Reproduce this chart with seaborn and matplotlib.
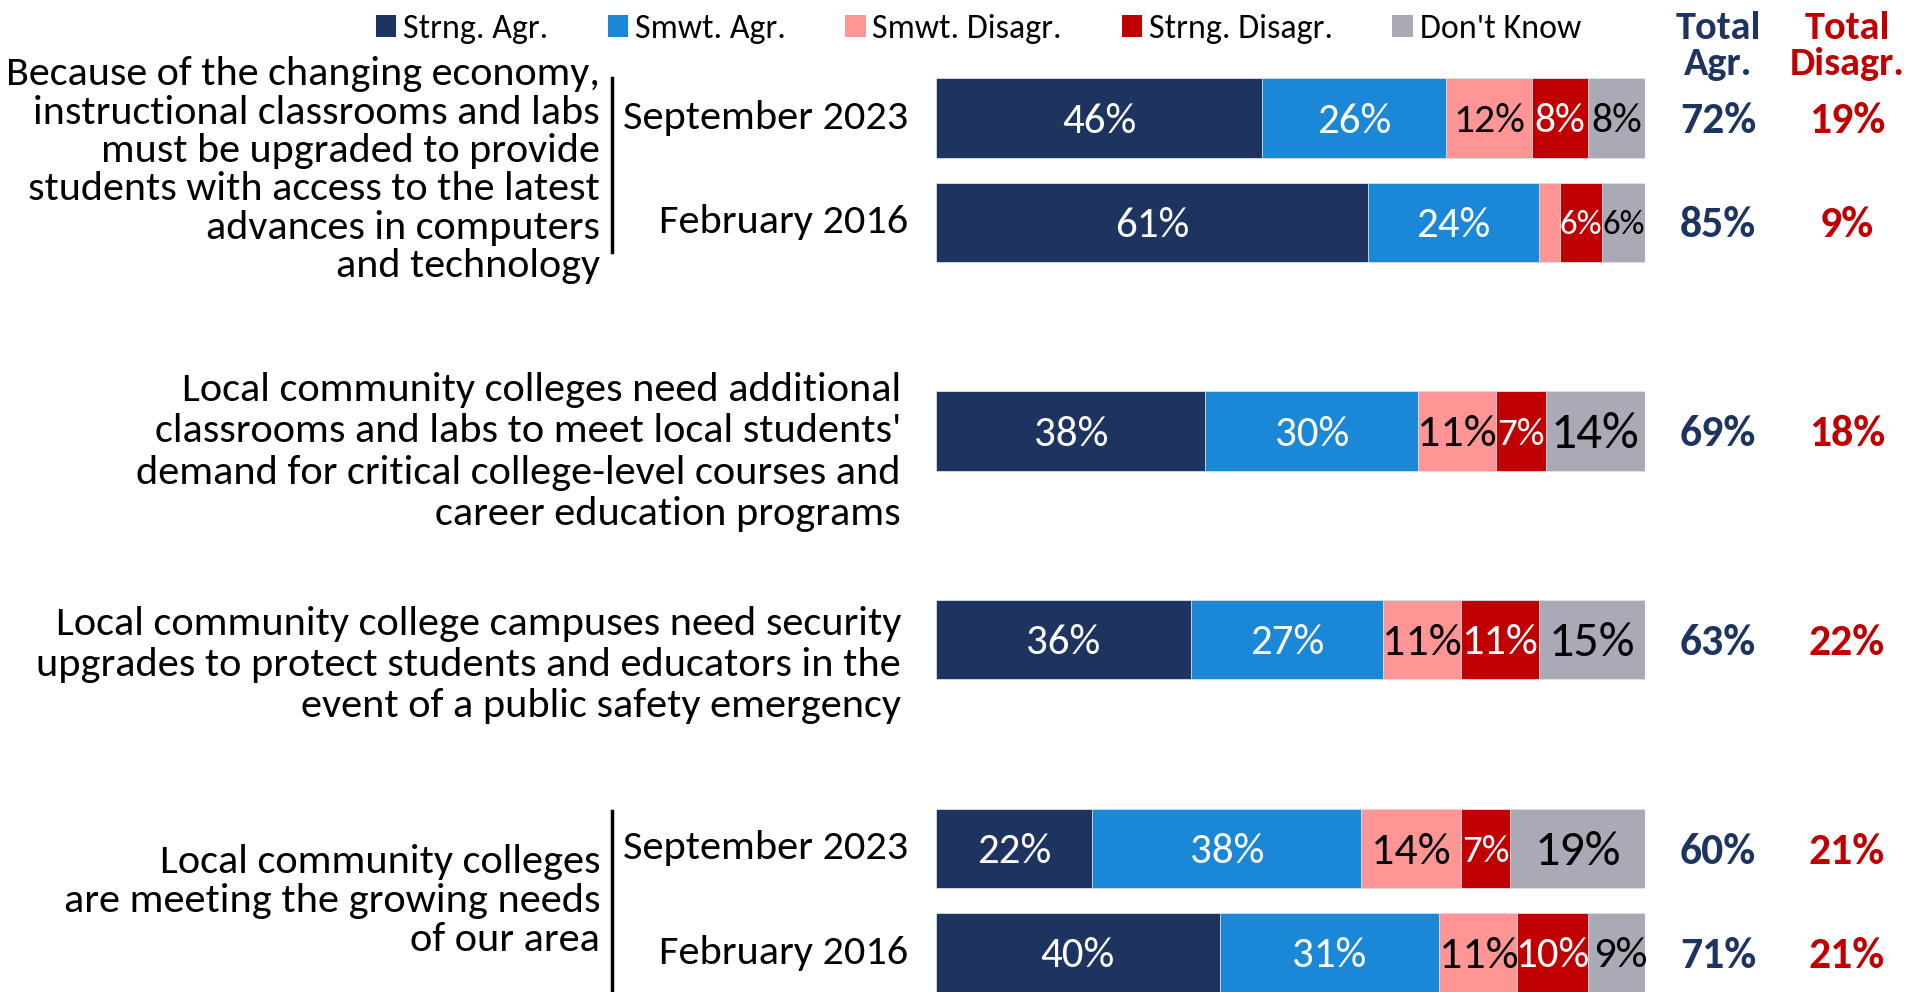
import pandas as pd
import seaborn as sns
import matplotlib.pyplot as plt
import matplotlib.transforms as mtransforms
from matplotlib import font_manager
from matplotlib.patches import Patch

# categories and values
cats = ["Strng. Agr.", "Smwt. Agr.", "Smwt. Disagr.", "Strng. Disagr.", "Don't Know"]
rows = [0, 1, 3, 5, 7, 8]
strng_agr = [46, 61, 38, 36, 22, 40]
smwt_agr = [26, 24, 30, 27, 38, 31]
smwt_dis = [12, 3, 11, 11, 14, 11]
strng_dis = [8, 6, 7, 11, 7, 10]
dont_know = [8, 6, 14, 15, 19, 9]
total_agr = [72, 85, 69, 63, 60, 71]
total_dis = [19, 9, 18, 22, 21, 21]
dates = ["September 2023", "February 2016", "", "", "September 2023", "February 2016"]
questions = [
    "Because of the changing economy,\ninstructional classrooms and labs\nmust be upgraded to provide\n"
    "students with access to the latest\nadvances in computers\nand technology",
    "Local community colleges need additional\nclassrooms and labs to meet local students'\n"
    "demand for critical college-level courses and\ncareer education programs",
    "Local community college campuses need security\nupgrades to protect students and educators in the\n"
    "event of a public safety emergency",
    "Local community colleges\nare meeting the growing needs\nof our area",
]

colors = ["#1D3461", "#1A88D6", "#FF9595", "#C00000", "#A9AAB6"]
txt_colors = ["white", "white", "black", "white", "black"]

# Calibri look-alike if present
available = {f.name for f in font_manager.fontManager.ttflist}
base_font = "Carlito" if "Carlito" in available else "DejaVu Sans"
plt.rcParams["font.family"] = [base_font, "DejaVu Sans"]

df = pd.DataFrame({"row": rows, cats[0]: strng_agr, cats[1]: smwt_agr, cats[2]: smwt_dis,
                   cats[3]: strng_dis, cats[4]: dont_know})
cum = df[cats].cumsum(axis=1)

fig = plt.figure(figsize=(19.09, 9.92), dpi=100)
ax = fig.add_axes([936 / 1909, 0, 709 / 1909, 1])

# stacked bars as overlapping cumulative bars, longest first
for i in range(len(cats) - 1, -1, -1):
    sns.barplot(x=cum[cats[i]], y=df["row"], orient="h", native_scale=True,
                color=colors[i], width=0.76, saturation=1, ax=ax,
                edgecolor="#DDE3EA", linewidth=0.6)

ax.set_xlim(0, 100)
ax.set_ylim(8.375, -1.13)
ax.axis("off")

# segment label sizes (0 = no label)
sizes = [
    [31, 31, 30, 30, 30],
    [31, 31, 0, 25, 25],
    [31, 31, 33, 28, 37],
    [31, 31, 33, 32, 36],
    [31, 31, 33, 28, 36],
    [31, 31, 33, 31, 32],
]
for r in range(len(rows)):
    left = 0
    for i, c in enumerate(cats):
        v = df[c][r]
        if sizes[r][i] > 0:
            ax.text(left + v / 2, rows[r] + 0.03, f"{v}%", ha="center", va="center",
                    color=txt_colors[i], fontsize=sizes[r][i])
        left += v

tr = mtransforms.blended_transform_factory(fig.transFigure, ax.transData)

# totals
for r in range(len(rows)):
    ax.text(1718 / 1909, rows[r] + 0.03, f"{total_agr[r]}%", transform=tr, ha="center", va="center",
            color="#1D3461", fontsize=31.5, fontweight="bold")
    ax.text(1847 / 1909, rows[r] + 0.03, f"{total_dis[r]}%", transform=tr, ha="center", va="center",
            color="#C00000", fontsize=31.5, fontweight="bold")
fig.text(1718 / 1909, 1 - 46 / 992, "Total\nAgr.", ha="center", va="center", color="#1D3461",
         fontsize=29, fontweight="bold", linespacing=1.05)
fig.text(1847 / 1909, 1 - 46 / 992, "Total\nDisagr.", ha="center", va="center", color="#C00000",
         fontsize=29, fontweight="bold", linespacing=1.05)

# dates
for r in range(len(rows)):
    if dates[r]:
        ax.text(908 / 1909, rows[r], dates[r], transform=tr, ha="right", va="center",
                fontsize=30.5)

# question texts
ax.text(600 / 1909, 0.5, questions[0], transform=tr, ha="right", va="center",
        fontsize=30.3, linespacing=1.08)
ax.text(901 / 1909, 3.2, questions[1], transform=tr, ha="right", va="center",
        fontsize=30.5, linespacing=1.18)
ax.text(901 / 1909, 5.24, questions[2], transform=tr, ha="right", va="center",
        fontsize=30.5, linespacing=1.18)
ax.text(600 / 1909, 7.5, questions[3], transform=tr, ha="right", va="center",
        fontsize=30.5, linespacing=1.1)

# brackets
ax.plot([612 / 1909, 612 / 1909], [-0.38, 1.28], transform=tr, color="black", lw=2.5, clip_on=False)
ax.plot([612 / 1909, 612 / 1909], [6.64, 8.4], transform=tr, color="black", lw=2.5, clip_on=False)

# legend
handles = [Patch(facecolor=colors[i], label=cats[i]) for i in range(len(cats))]
fig.legend(handles=handles, loc="center left", bbox_to_anchor=(362 / 1909, 1 - 29 / 992),
           ncol=5, frameon=False, fontsize=24.5, handlelength=0.6, handleheight=0.6,
           handletextpad=0.2, columnspacing=1.75, borderaxespad=0)

fig.savefig("out.png", dpi=100)
